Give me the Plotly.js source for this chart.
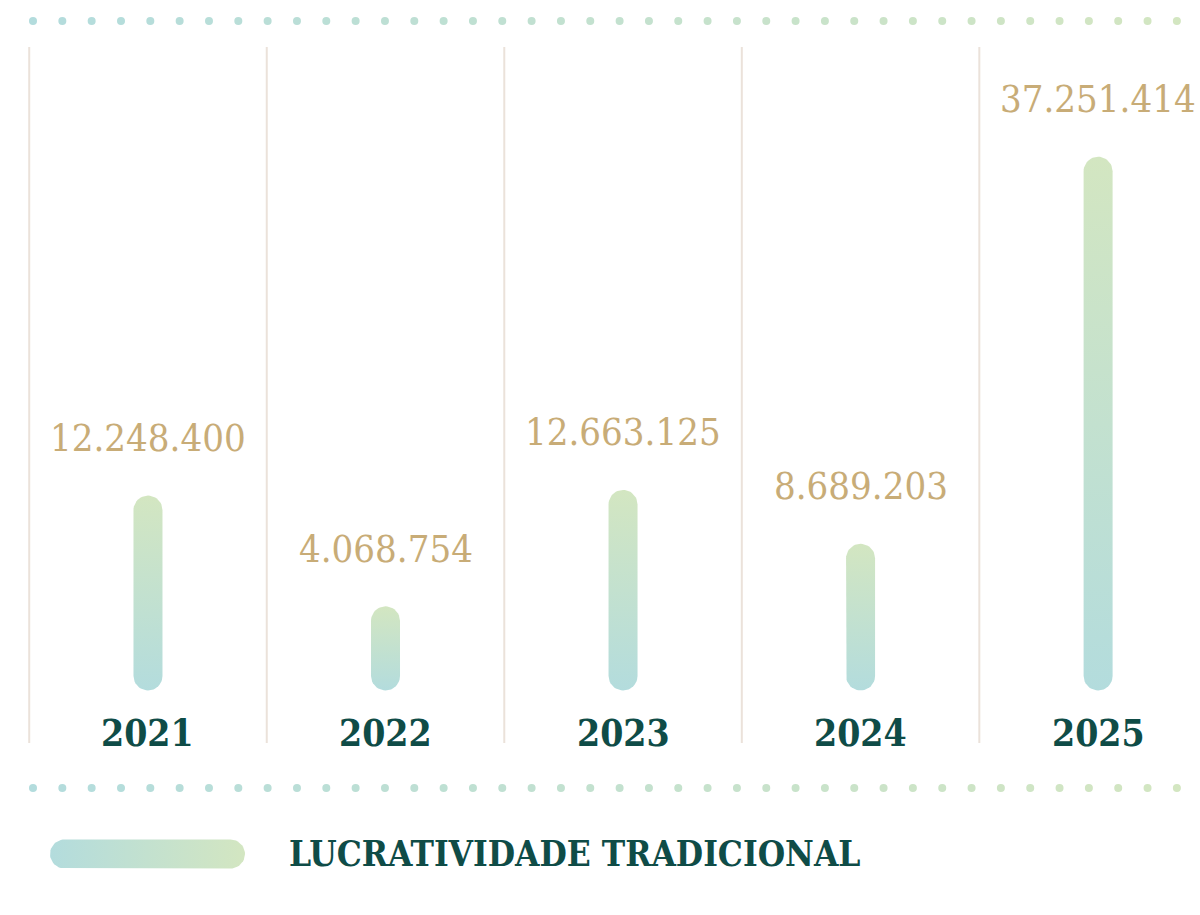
<!DOCTYPE html>
<html>
<head>
<meta charset="utf-8">
<script src="https://cdn.plot.ly/plotly-3.0.1.min.js"></script>
<style>
  html, body { margin: 0; padding: 0; background: #ffffff; }
  #chart { width: 1200px; height: 915px; }
</style>
</head>
<body>
<div id="chart"></div>
<script>
// ---- data ----
const years = ['2021', '2022', '2023', '2024', '2025'];
const values = [12248400, 4068754, 12663125, 8689203, 37251414];
const valueLabels = ['12.248.400', '4.068.754', '12.663.125', '8.689.203', '37.251.414'];
const seriesName = 'LUCRATIVIDADE TRADICIONAL';

// ---- styling ----
const W = 1200, H = 915;
const blue = '#b3dcdd', green = '#d3e6c1';
const tan = '#c8ac77', dark = '#0f4c47', sep = '#ebe2da';
const fontFam = '"DejaVu Serif Condensed", "DejaVu Serif", serif';

const xRange = [-0.623, 4.429];
const yRange = [-17.64e6, 49.89e6];
const pxPerX = W / (xRange[1] - xRange[0]);
const pxPerY = H / (yRange[1] - yRange[0]);
const halfPx = 14.5;

function roundedBar(i, v) {
  const rx = halfPx / pxPerX, ry = halfPx / pxPerY;
  const xs = [], ys = [];
  const n = 24;
  for (let k = 0; k <= n; k++) {
    const t = Math.PI * k / n;
    xs.push(i + rx * Math.cos(t)); ys.push(v + ry * Math.sin(t));
  }
  for (let k = 0; k <= n; k++) {
    const t = Math.PI + Math.PI * k / n;
    xs.push(i + rx * Math.cos(t)); ys.push(0 + ry * Math.sin(t));
  }
  xs.push(xs[0]); ys.push(ys[0]);
  return {xs, ys};
}

const traces = [];
years.forEach((yr, i) => {
  const p = roundedBar(i, values[i]);
  traces.push({
    type: 'scatter', mode: 'lines', x: p.xs, y: p.ys,
    fill: 'toself', line: {width: 0, color: 'rgba(0,0,0,0)'},
    fillgradient: {type: 'vertical', colorscale: [[0, blue], [1, green]]},
    name: yr, showlegend: false, hoverinfo: 'skip'
  });
});

// decorative dotted rules (pixel-space overlay axes)
const dotX = [], dotY = [];
for (let k = 0; k < 40; k++) {
  const x = 33 + k * 29.33;
  dotX.push(x); dotY.push(21);
}
for (let k = 0; k < 40; k++) {
  const x = 33 + k * 29.33;
  dotX.push(x); dotY.push(788);
}
traces.push({
  type: 'scatter', mode: 'markers', x: dotX, y: dotY, xaxis: 'x2', yaxis: 'y2',
  marker: {size: 8, color: dotX, colorscale: [[0, blue], [1, green]], cmin: 33, cmax: 1177, line: {width: 0}},
  showlegend: false, hoverinfo: 'skip'
});

// legend swatch (rounded, horizontal gradient)
(function () {
  const x0 = 50, x1 = 245, yc = 854, r = 14.5;
  const xs = [], ys = [];
  const n = 24;
  for (let k = 0; k <= n; k++) {
    const t = -Math.PI / 2 + Math.PI * k / n;
    xs.push(x1 - r + r * Math.cos(t)); ys.push(yc + r * Math.sin(t));
  }
  for (let k = 0; k <= n; k++) {
    const t = Math.PI / 2 + Math.PI * k / n;
    xs.push(x0 + r + r * Math.cos(t)); ys.push(yc + r * Math.sin(t));
  }
  xs.push(xs[0]); ys.push(ys[0]);
  traces.push({
    type: 'scatter', mode: 'lines', x: xs, y: ys, xaxis: 'x2', yaxis: 'y2',
    fill: 'toself', line: {width: 0, color: 'rgba(0,0,0,0)'},
    fillgradient: {type: 'horizontal', colorscale: [[0, blue], [1, green]]},
    name: seriesName, showlegend: false, hoverinfo: 'skip'
  });
})();

const annotations = [];
years.forEach((yr, i) => {
  annotations.push({
    x: i, y: values[i], xref: 'x', yref: 'y', text: valueLabels[i],
    showarrow: false, yanchor: 'middle', xanchor: 'center', yshift: 72,
    font: {family: fontFam, size: 38, color: tan}
  });
  annotations.push({
    x: i, y: 1 - 733 / H, xref: 'x', yref: 'paper', text: yr,
    showarrow: false, yanchor: 'middle', xanchor: 'center',
    font: {family: fontFam, size: 37, color: dark, weight: 'bold'}
  });
});
annotations.push({
  x: 287 / W, y: 1 - 853 / H, xref: 'paper', yref: 'paper', text: seriesName,
  showarrow: false, xanchor: 'left', yanchor: 'middle',
  font: {family: fontFam, size: 35, color: dark, weight: 'bold'}
});

const shapes = years.map((yr, i) => ({
  type: 'line', xref: 'x', yref: 'paper', x0: i - 0.5, x1: i - 0.5,
  y0: 1 - 743 / H, y1: 1 - 47 / H, line: {color: sep, width: 2}, layer: 'below'
}));

const layout = {
  width: W, height: H,
  margin: {l: 0, r: 0, t: 0, b: 0, pad: 0},
  paper_bgcolor: '#ffffff', plot_bgcolor: '#ffffff',
  showlegend: false, hovermode: false,
  xaxis: {range: xRange, visible: false, fixedrange: true},
  yaxis: {range: yRange, visible: false, fixedrange: true},
  xaxis2: {range: [0, W], visible: false, overlaying: 'x', fixedrange: true},
  yaxis2: {range: [H, 0], visible: false, overlaying: 'y', fixedrange: true},
  annotations: annotations,
  shapes: shapes
};

Plotly.newPlot('chart', traces, layout, {displayModeBar: false, staticPlot: true});
</script>
</body>
</html>
